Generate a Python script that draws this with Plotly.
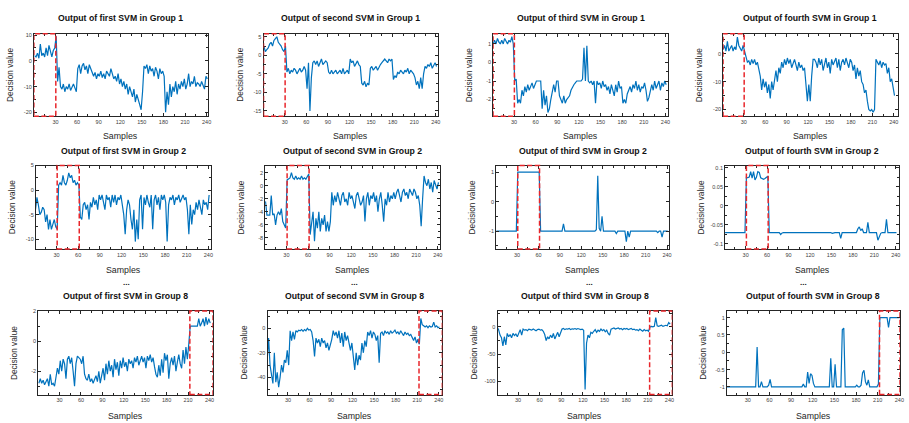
import plotly.graph_objects as go

W, H = 909, 423

# ---------------- data ----------------
samples = list(range(1, 242, 2))
x_ticks = [30, 60, 90, 120, 150, 180, 210, 240]

titles = [
    "Output of first SVM in Group 1", "Output of second SVM in Group 1",
    "Output of third SVM in Group 1", "Output of fourth SVM in Group 1",
    "Output of first SVM in Group 2", "Output of second SVM in Group 2",
    "Output of third SVM in Group 2", "Output of fourth SVM in Group 2",
    "Output of first SVM in Group 8", "Output of second SVM in Group 8",
    "Output of third SVM in Group 8", "Output of fourth SVM in Group 8",
]

g1_svm1 = [2, 1.5, 3, 1, 6.5, 2, 3, 1.5, 5, 2, 6, 3, 1.5, 4, 5, 9.5,
           -8, -2.5, -10, -11, -9, -12, -10, -11, -9, -11.5, -10, -9, -10.5, -12, -3,
           -1.5, -5, -2, -1, -3.5, -2, -5, -1.5, -3, -4,
           -6, -4.5, -7, -5, -6, -4, -6.5, -5, -7, -4, -5, -6, -3, -5, -7,
           -6, -8, -5, -9, -7, -10, -8, -11, -9, -13, -10, -12, -14, -11, -16, -13, -15, -18, -19,
           -12, -2, -3, -1.5, -5, -2, -4, -3, -6, -2.5, -4, -7, -3, -5, -4, -6,
           -20, -12, -17, -9, -14, -10, -12, -8, -13,
           -9, -11, -8, -10, -7, -11, -9, -5, -10, -8, -9, -6, -10, -8.5, -9, -10, -8, -9.5, -11, -6, -7]

g1_svm2 = [2.5, 1, 1.5, 2, 3, 3.5, 2.5, 4, 4.5, 5, 3.5, 3, 2.5, 1.5, 1, 2.5,
           -4.5, -3.5, -5, -4, -4.5, -3.5, -4, -5, -4, -3.5, -4.5, -4, -3, -4,
           -9, -2, -15, -6, -2, -1.5,
           -2.5, -1.5, -3, -2, -1, -2.5, -2, -1.5, -2,
           -4.5, -5, -4, -5, -4.5, -4, -5, -4.5, -4, -5, -3.5, -5, -4.5, -4, -5,
           -1, -2, -1.5, -3, -2, -1.5, -2.5, -3,
           -7.5, -8, -7, -8.5, -7.5, -8,
           -3.5, -3, -4, -3.5, -3, -4, -3, -2.5,
           -2, -1.5, -1, -1.5, -2, -1, -1.5, -1,
           -6.5, -5.5, -6, -4.5, -5, -4, -4.5, -5, -4, -4.5, -3.5, -5, -4, -4.5, -5,
           -6, -8, -7, -9, -6, -9, -5,
           -3, -3.5, -2.5, -3, -2, -3.5, -2.5, -2, -3]

g1_svm3 = [1.0, 1.2, 1.0, 1.3, 1.1, 1.0, 1.2, 1.0, 1.3, 1.1, 1.0, 1.2, 1.1, 1.4, 1.0,
           -1.0, -0.9, -2.2, -2.0, -2.2,
           -1.5, -1.8, -1.3, -1.6, -1.2, -1.5, -1.3, -1.1, -1.4, -1.2,
           -1.0, -1.0, -1.0, -1.0,
           -2.5, -1.5, -2.3, -1.8, -2.7, -2.5, -2.0,
           -1.5, -1.2, -1.6, -1.0, -1.0,
           -1.8, -2.0, -2.2, -1.8, -2.2, -2.0, -1.9,
           -1.8, -1.5, -1.3, -1.2, -1.1, -1.0,
           -1.0, -1.0, -1.0, -0.9,
           0.8, -1.0, 0.9,
           -1.0, -1.1, -1.0, -1.2, -1.0,
           -2.2,
           -1.0, -1.2, -1.1, -1.4, -1.0, -1.3, -1.2, -1.5,
           -1.3, -1.7, -1.2, -1.5, -1.8, -1.2, -1.6, -1.0, -1.4, -1.3,
           -2.2, -2.0, -2.2, -1.7, -1.5,
           -1.3, -1.6, -1.2, -1.4, -1.0, -1.5, -1.2, -1.6, -1.3, -1.4, -1.1, -1.5,
           -2.1, -1.9, -1.6,
           -1.2, -1.5, -1.0, -1.4, -1.2, -1.0, -1.5, -1.1, -1.3, -1.0, -1.2]

g1_svm4 = [1.5, 3, 1, 4.5, 1, 2, 3, 1, 2.5, 1.5, 6, 3, 2, 1, 3, 1,
           -2, -3, -2.5, -4, -2, -3.5, -2, -4, -3,
           -6, -8, -13, -9, -12, -10, -14, -11, -16, -10, -13,
           -9, -6, -10, -5, -7,
           -3, -5, -2, -4, -1.5, -3.5, -2, -5, -3, -2,
           -4, -6, -3, -5, -4, -6, -5,
           -10, -17, -11, -17, -8, -2,
           -2, -3, -5, -1.5, -4, -2, -6, -3, -1.5, -5, -3, -7, -2, -4, -3, -1.5, -5, -2, -6, -3,
           -2, -4, -1.5, -3, -5, -2,
           -3, -6, -4, -9, -5, -8, -6, -10,
           -11, -14, -13, -17, -20,
           -20.5, -20, -21, -20,
           -2, -3, -4, -2.5, -5, -3, -4, -3.5,
           -7, -5, -10, -9, -13, -15]

g2_svm1 = [-4, -1.5, -3, -5, -4.5, -3.5, -4, -6.5, -5, -8, -6, -8, -7, -6, -7.5,
           -8, 1, 1.5, 1, 3, 1.5, 1, 2, 3.5, 2.5, 3, 1.5, 2, 1, 1.5, 1,
           -5.5, -6, -3, -2.5, -4, -3, -6, -2.5, -3.5, -1.5, -3, -2, -4, -1,
           -2, -1, -2.5, -4, -1, -2, -1.5, -3.5, -1, -2.5, -1, -3, -1.5, -2, -1,
           -3, -5, -9, -4, -2,
           -3, -6, -8, -4, -10.5, -6, -10, -2,
           -1, -8, -1.5, -3, -1, -2.5, -3.5, -1,
           -8, -2, -1, -3, -1.5, -4, -1, -2, -1, -2.5,
           -10.5, -3, -1.5, -2,
           -1, -3, -1.5, -2, -1, -2.5, -1.5, -1, -2, -1.5,
           -4, -9, -3, -7, -4,
           -5, -2.5, -4, -2, -3.5, -5, -2, -3, -2.5, -4, -1]

g2_svm2 = [-2.4, -4.5, -4.5, -4.5, -1.5, -4.5, -4.3, -6, -4.5, -4, -4.5, -3.5, -5.5, -6, -6.5,
           0.9, 1, 1.2, 2, 1.2, 1, 1.5, 1, 1.2, 1, 1.5, 1, 1.2, 1, 1.5, 1.8,
           -7.5, -6, -4, -8.5, -5, -6.5, -4, -7, -5, -6, -4.5, -7, -5.5, -7, -5.5,
           -1, -3, -1.5, -2.5, -1, -2, -3, -1.5, -1, -2.5, -2, -3, -1, -2, -1.5,
           -2.5, -3.5, -1.5, -1, -2, -3, -2.5, -1.5, -5.5, -2, -1, -3, -1.5, -2,
           -1, -2.5, -1.5, -4, -2, -1, -3, -5.5, -2, -3, -1, -2.5, -1.5, -2, -1,
           -2, -1, -0.5, -1.5, -2.5, -1, -0.5, -1.5, -1, -2, -0.5, -1, -1.5, -0.5, -1, -2, -1.5, -3,
           -6.2, -2, 1.5, 0.5,
           0, 1, -0.5, 0.5, -1, 0.8, 0, -0.5, 0.5]

g2_svm3 = ([-1] * 15 + [1] * 16 + [-1] * 16 + [-0.75] + [-1] * 22 +
           [-0.95, 0.87, -0.9, -1.0, -0.5, -1.0] + [-1] * 8 + [-1.08] + [-1] * 6 +
           [-1.35, -1.0, -1.2, -1.0] + [-1] * 18 + [-1.05, -1, -1, -1.2, -1] + [-1] * 3)

g2_svm4 = ([-0.07] * 15 +
           [0.075, 0.074, 0.076, 0.09, 0.073, 0.09, 0.068, 0.075, 0.09, 0.088, 0.074, 0.072, 0.07, 0.072, 0.075, 0.078] +
           [-0.07] * 8 + [-0.075, -0.071] + [-0.07] * 34 + [-0.072] + [-0.07] * 5 + [-0.085] +
           [-0.07] * 11 + [-0.06, -0.055, -0.065, -0.06] + [-0.07] * 3 + [-0.043] + [-0.07] * 6 +
           [-0.09, -0.08, -0.072] + [-0.07] * 3 + [-0.035] + [-0.07] * 7)

g8_svm1 = [-2.8, -2.5, -2.8, -2.6, -2.9, -2.7, -2.5, -3.0, -2.2, -2.9,
           -2.8, -3.0, -2.5, -1.8, -2.2, -1.3, -2.0, -1.2, -1.5, -2.5,
           -1.2, -1.0, -1.5, -1.1, -2.0, -3.0, -1.5, -1.0, -1.1, -1.2,
           -1.5, -1.0, -2.2, -2.5, -2.6, -2.2, -2.7, -2.5, -2.8, -2.5,
           -2.3, -2.7, -2.0, -2.8, -2.4, -1.8, -2.6, -1.5, -2.2, -1.3,
           -2.0, -1.6, -2.4, -1.2, -1.9, -1.4, -2.3, -1.3, -1.8, -1.1,
           -1.7, -1.4, -2.0, -1.2, -1.5, -1.3, -1.8, -1.1, -1.4, -1.0,
           -1.6, -1.2, -1.0, -1.4, -1.1, -1.8, -1.0, -1.3, -0.9, -1.4,
           -1.1, -1.7, -2.2, -2.4, -1.6, -2.3, -1.2, -2.1, -0.8, -1.3,
           -0.9, -2.5, -1.5, -1.1, -1.6, -1.0, -2.0, -1.4, -0.9, -1.5,
           -1.8, -0.6, -1.5, -0.4, -1.2, -0.2, 1.0, 1.0, 1.0, 1.0,
           1.0, 1.0, 1.5, 1.0, 1.2, 1.5, 1.0, 1.6, 1.1, 1.5, 1.2]

g8_svm2 = [-26, -8, -30, -38, -45, -20, -44, -36, -48, -40,
           -30, -36, -26, -28, -18, -30, -2, -10, -3, -9,
           -2, -3, -1.5, -2, -1, -2.5, -1, -2, 0, -1.5,
           -1, -3, -10, -23, -8, -12, -9, -15, -8, -12,
           -10, -16, -12, -18, -14, -9, -2, -6, -3, -8,
           -2, -12, -4, -15, -3, -10, -6, -14, -18, -12,
           -25, -34, -20, -30, -22, -26, -12, -20, -10, -15,
           -3, -6, -2, -8, -3, -5, -10, -6, -28, -4,
           -3, -6, -2, -4, -3, -5, -2, -4, -3, -1.5,
           -4, -3, -5, -2, -4, -6, -3, -5, -4, -6,
           -5, -8, -10, -7, -12, -9, -13, 8, 3, 2,
           1, 2, 0.5, 2, 1, 1.5, 5, 1, 2, 0.5, 1]

g8_svm3 = [0, -5, -15, -20, -35, -18, -33, -12, -18, -14,
           -20, -12, -16, -13, -18, -10, -5, -15, -4, -6,
           -5, -7, -4, -5, -6, -4, -5, -7, -5, -4,
           -6, -5, -8, -14, -25, -18, -22, -15, -20, -12,
           -22, -16, -10, -18, -12, -4, -3, -5, -3.5, -4,
           -3, -5, -3.5, -4, -3, -4.5, -3, -4, -5, -4,
           -6, -115, -30, -15, -20, -10, -12, -8, -5, -10,
           -6, -8, -4, -7, -5, -9, -6, -12, -15, -4,
           -3, -2, -4, -3, -2, -4, -3, -5, -3, -4,
           -3, -5, -4, -3, -5, -4, -6, -5, -7, -4,
           -6, -8, -5, -7, -6, -8, 0, 1, 0, 1,
           17, 2, 1, 2, 3, 1, 2, 3, 2, 8, 5]

g8_svm4 = ([-1] * 21 + [0.15, -1] + [-1, -0.85] + [-1] * 4 + [-0.95, -0.78, -1] + [-1] * 21 +
           [-0.92, -1, -1, -0.57, -0.9, -0.62, -0.67, -0.9, -1] + [-1] * 10 +
           [-0.17, -1, -1, -0.35, -1] + [-1] * 3 + [0.65, 0.7, -1] + [-1] * 7 +
           [-0.95, -1, -1, -0.95, -0.6, -0.52, -0.85, -0.95, -0.8, -1] + [-1] * 5 +
           [-0.92, 1] + [1] * 5 + [0.72, 1] + [1] * 7)

series = [g1_svm1, g1_svm2, g1_svm3, g1_svm4,
          g2_svm1, g2_svm2, g2_svm3, g2_svm4,
          g8_svm1, g8_svm2, g8_svm3, g8_svm4]

y_tickvals = [[-20, -10, 0, 10], [-15, -10, -5, 0, 5], [-2, -1, 0, 1], [-20, -10, 0],
              [-10, -5, 0, 5], [-8, -6, -4, -2, 0, 2], [-1, 0, 1], [-0.1, -0.05, 0, 0.05, 0.1],
              [-2, 0, 2], [-40, -20, 0], [-100, -50, 0], [-1, -0.5, 0, 0.5, 1]]
y_ticktext = [["-20", "-10", "0", "10"], ["-15", "-10", "-5", "0", "5"], ["-2", "-1", "0", "1"],
              ["-20", "-10", "0"], ["-10", "-5", "0", "5"], ["-8", "-6", "-4", "-2", "0", "2"],
              ["-1", "0", "1"], ["-0.1", "-0.05", "0", "0.05", "0.1"], ["-2", "0", "2"],
              ["-40", "-20", "0"], ["-100", "-50", "0"], ["-1", "-0.5", "0", "0.5", "1"]]

# highlighted sample window for each group row
highlight = [(0, 30.5)] * 4 + [(31, 61.5)] * 4 + [(212.5, 999)] * 4

# ---------------- layout (pixel boxes, axis ranges) ----------------
boxes = [  # left, right, top, bottom in px
    (34, 209, 31, 114), (264.7, 439.7, 31, 114), (495.3, 671.3, 31, 114), (726.3, 901.7, 31, 114),
    (36, 212, 163.7, 247.7), (266.3, 442, 163.7, 247.7), (498.3, 672.3, 163.7, 247.7), (728.3, 903.3, 163.7, 247.7),
    (38.3, 214, 310.3, 394.3), (268.7, 444.3, 310.3, 394.3), (499.7, 675.3, 310.3, 394.3), (730, 903.7, 310.3, 394.3),
]
x_ranges = [(0, 242), (0.5, 242.7), (1, 244), (1, 245.5),
            (1.5, 243.7), (0.5, 243.2), (0.7, 243.2), (1.2, 245),
            (0, 245), (1.5, 245), (1.5, 244), (1, 240.5)]
y_ranges = [(-21.5, 10.5), (-16.4, 5.8), (-2.9, 1.55), (-22.4, 7.2),
            (-12, 5), (-9.7, 3.1), (-1.6, 1.22), (-0.113, 0.106),
            (-3.55, 2), (-54, 14), (-124, 29), (-1.22, 1.19)]
title_y = [15, 149.5, 295.3]
xlabel_y = [134, 268.7, 416]

LINE = "#0072BD"
AX = "#262626"
FONT = "Liberation Sans, Arial, sans-serif"

fig = go.Figure()
annotations = []
shapes = []

def px(x):
    return x / W

def py(y):
    return 1 - y / H

for i in range(12):
    L, R, T, B = boxes[i]
    xa = "xaxis" if i == 0 else f"xaxis{i + 1}"
    ya = "yaxis" if i == 0 else f"yaxis{i + 1}"
    xr = "x" if i == 0 else f"x{i + 1}"
    yr = "y" if i == 0 else f"y{i + 1}"
    yv = series[i]
    fig.add_trace(go.Scatter(x=samples[:len(yv)], y=yv, mode="lines",
                             line=dict(color=LINE, width=1.2), xaxis=xr, yaxis=yr,
                             hoverinfo="skip", showlegend=False))
    minor_x = [t - 15 for t in x_ticks] + [x_ticks[-1] + 15]
    tv = y_tickvals[i]
    step = tv[1] - tv[0]
    minor_y = [v + step / 2 for v in tv] + [tv[0] - step / 2]
    fig.layout[xa] = dict(domain=[px(L), px(R)], range=list(x_ranges[i]), anchor=yr,
                          showline=True, linecolor=AX, linewidth=1, mirror="ticks",
                          ticks="inside", ticklen=3, tickcolor=AX, tickwidth=1,
                          tickmode="array", tickvals=x_ticks, ticktext=[str(t) for t in x_ticks],
                          tickfont=dict(size=5.5, color="#404040", family=FONT),
                          minor=dict(tickvals=minor_x, ticks="inside", ticklen=2, tickcolor=AX),
                          showgrid=False, zeroline=False, fixedrange=True)
    fig.layout[ya] = dict(domain=[py(B), py(T)], range=list(y_ranges[i]), anchor=xr,
                          showline=True, linecolor=AX, linewidth=1, mirror="ticks",
                          ticks="inside", ticklen=3, tickcolor=AX, tickwidth=1,
                          tickmode="array", tickvals=tv, ticktext=y_ticktext[i],
                          tickfont=dict(size=5.5, color="#404040", family=FONT),
                          minor=dict(tickvals=minor_y, ticks="inside", ticklen=2, tickcolor=AX),
                          showgrid=False, zeroline=False, fixedrange=True)
    # red dashed highlight box
    h0, h1 = highlight[i]
    x0 = max(h0, x_ranges[i][0])
    x1 = min(h1, x_ranges[i][1])
    shapes.append(dict(type="rect", xref=xr, yref=f"{yr} domain", x0=x0, x1=x1, y0=0, y1=1,
                       line=dict(color="#E8262B", width=1.5, dash="5px,2.5px"),
                       fillcolor="rgba(0,0,0,0)", layer="above"))
    row = i // 4
    cx = (L + R) / 2
    annotations.append(dict(text=f"<b>{titles[i]}</b>", x=px(cx), y=py(title_y[row]),
                            xref="paper", yref="paper", showarrow=False,
                            xanchor="center", yanchor="middle",
                            font=dict(size=8.7, color="#111111", family=FONT)))
    annotations.append(dict(text="Samples", x=px(cx), y=py(xlabel_y[row]),
                            xref="paper", yref="paper", showarrow=False,
                            xanchor="center", yanchor="middle",
                            font=dict(size=8.8, color=AX, family=FONT)))
    annotations.append(dict(text="Decision value", x=px(L - 24), y=py((T + B) / 2),
                            xref="paper", yref="paper", showarrow=False, textangle=-90,
                            xanchor="center", yanchor="middle",
                            font=dict(size=8.3, color=AX, family=FONT)))

for xd in [127, 356, 592, 807]:
    annotations.append(dict(text="<b>...</b>", x=px(xd), y=py(281), xref="paper", yref="paper",
                            showarrow=False, xanchor="center", yanchor="middle",
                            font=dict(size=8, color="#111111", family=FONT)))

fig.update_layout(width=W, height=H, margin=dict(l=0, r=0, t=0, b=0),
                  paper_bgcolor="white", plot_bgcolor="white", showlegend=False,
                  annotations=annotations, shapes=shapes)

fig.write_html("out.html", config={"displayModeBar": False},
               post_script="document.body.style.margin='0';document.body.style.padding='0';"
                           "document.documentElement.style.overflow='hidden';")
